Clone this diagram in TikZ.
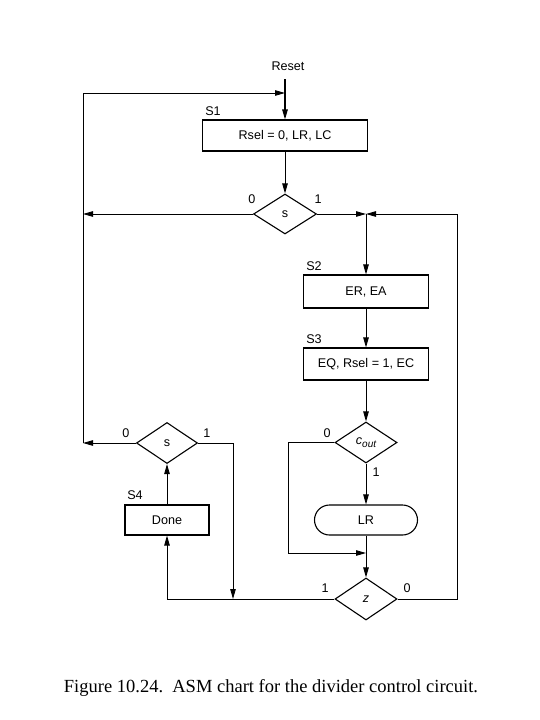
\documentclass[tikz,border=0pt]{standalone}
\usepackage{fontspec}
\setmainfont{Liberation Sans}
\newfontfamily\capfont{Liberation Serif}
\usetikzlibrary{shapes.geometric,shapes.misc,arrows.meta}
\begin{document}
\begin{tikzpicture}[x=1pt,y=-1pt,
  every node/.style={font=\fontsize{12.6}{14}\selectfont},
  ln/.style={line width=0.9pt},
  arr/.style={ln,-{Triangle[length=10pt,width=5.5pt]}},
  statebox/.style={draw,line width=1.1pt,rectangle,inner sep=0pt},
  dec/.style={draw,line width=1.1pt,diamond,inner sep=0pt},
  condout/.style={draw,line width=1.1pt,rounded rectangle,inner sep=0pt},
  lbl/.style={inner sep=0pt}]
\useasboundingbox (0,0) rectangle (540,720);
% nodes
\node[lbl] (reset) at (288,66) {Reset};
\coordinate (rtop) at (285,79);
\node[statebox,minimum width=165pt,minimum height=31pt] (s1) at (285,135.5) {Rsel = 0, LR, LC};
\node[lbl] (s1l) at (213,111) {S1};
\node[dec,minimum width=63pt,minimum height=40pt] (d1) at (285,214) {s};
\node[lbl] (d1z) at (252,199) {0};
\node[lbl] (d1o) at (318,199) {1};
\node[statebox,minimum width=125pt,minimum height=33pt] (s2) at (366,291.5) {ER, EA};
\node[lbl] (s2l) at (314,266) {S2};
\node[statebox,minimum width=125pt,minimum height=32pt] (s3) at (366,364) {EQ, Rsel = 1, EC};
\node[lbl] (s3l) at (314,339) {S3};
\node[dec,minimum width=62pt,minimum height=41pt] (dc) at (366,442.5) {\itshape c\raisebox{-0.35ex}{\fontsize{10}{11}\selectfont out}};
\node[lbl] (dcz) at (327,433) {0};
\node[lbl] (dco) at (376,472) {1};
\node[condout,minimum width=103pt,minimum height=30pt] (lr) at (366,520) {LR};
\node[dec,minimum width=62pt,minimum height=42pt] (dz) at (366,599) {\itshape z};
\node[lbl] (dzo) at (325,588) {1};
\node[lbl] (dzz) at (407,588) {0};
\node[dec,minimum width=61pt,minimum height=41pt] (ds) at (167,443) {s};
\node[lbl] (dsz) at (126,433) {0};
\node[lbl] (dso) at (207,433) {1};
\node[statebox,minimum width=84pt,minimum height=30pt] (s4) at (167,520) {Done};
\node[lbl] (s4l) at (135,495) {S4};
% coordinates
\coordinate (j1) at (285,93);
\coordinate (cl0) at (83,93);
\coordinate (cl1) at (83,214);
\coordinate (cl2) at (83,443);
\coordinate (jr) at (366,214);
\coordinate (cr1) at (457,214);
\coordinate (cr2) at (457,599);
\coordinate (ca) at (288,442.5);
\coordinate (cb) at (288,553);
\coordinate (jz) at (366,553);
\coordinate (cd) at (167,599);
\coordinate (ce) at (233,443);
\coordinate (jd) at (233,599);
% connectors
\draw[arr,line width=1.2pt] (rtop) -- (s1.north);
\draw[arr] (cl2) -- (cl0) -- (j1);
\draw[arr] (s1.south) -- (d1.north);
\draw[arr] (d1.west) -- (cl1);
\draw[arr] (d1.east) -- (jr);
\draw[arr] (dz.east) -- (cr2) -- (cr1) -- (jr);
\draw[arr] (jr) -- (s2.north);
\draw[arr] (s2.south) -- (s3.north);
\draw[arr] (s3.south) -- (dc.north);
\draw[arr] (dc.west) -- (ca) -- (cb) -- (jz);
\draw[arr] (dc.south) -- (lr.north);
\draw[arr] (lr.south) -- (dz.north);
\draw[arr] (dz.west) -- (cd) -- (s4.south);
\draw[arr] (s4.north) -- (ds.south);
\draw[arr] (ds.west) -- (cl2);
\draw[arr] (ds.east) -- (ce) -- (jd);
% caption
\node[lbl,font=\capfont\fontsize{18.5}{20}\selectfont] (cap) at (271,688) {Figure 10.24.\ \ ASM chart for the divider control circuit.};
\end{tikzpicture}
\end{document}
